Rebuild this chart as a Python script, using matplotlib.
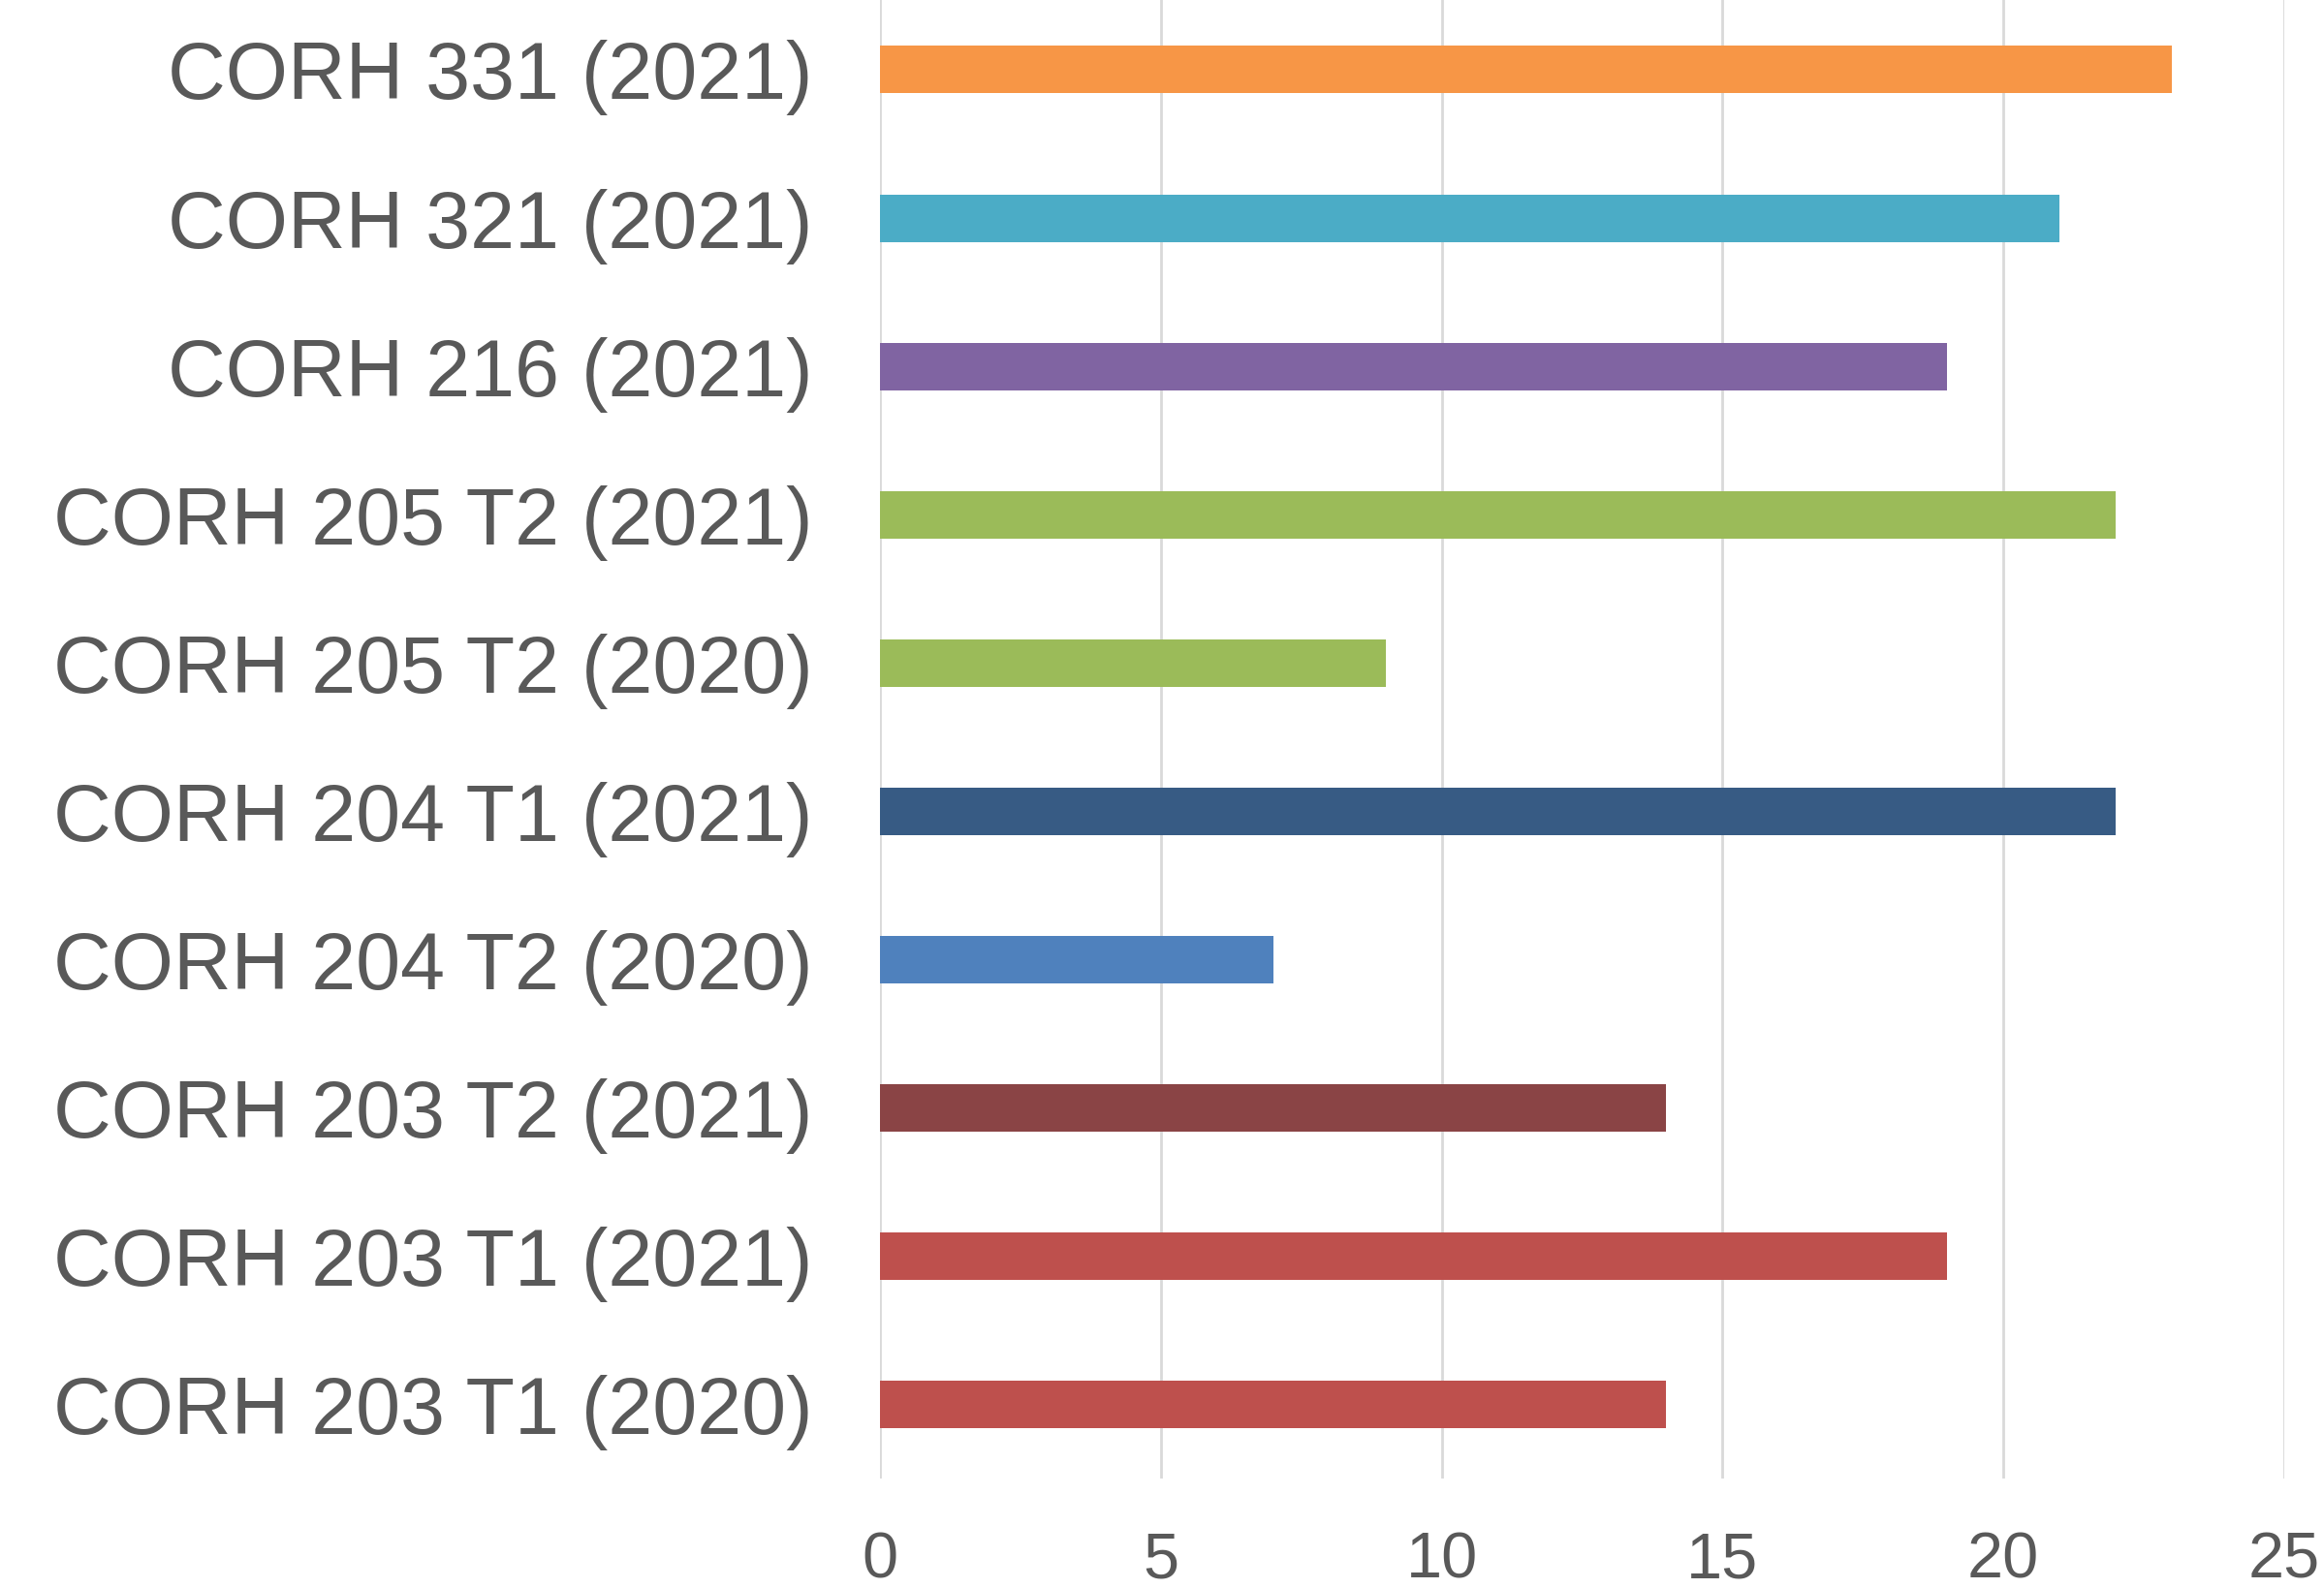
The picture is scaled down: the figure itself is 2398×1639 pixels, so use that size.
import matplotlib
matplotlib.use("Agg")
import matplotlib.pyplot as plt

# ---------- DATA ----------
labels = [
    "CORH 203 T1 (2020)",
    "CORH 203 T1 (2021)",
    "CORH 203 T2 (2021)",
    "CORH 204 T2 (2020)",
    "CORH 204 T1 (2021)",
    "CORH 205 T2 (2020)",
    "CORH 205 T2 (2021)",
    "CORH 216 (2021)",
    "CORH 321 (2021)",
    "CORH 331 (2021)",
]
values = [14, 19, 14, 7, 22, 9, 22, 19, 21, 23]
colors = ["#BE504D", "#BE504D", "#8A4445", "#4F81BD", "#375B84",
          "#9BBB59", "#9BBB59", "#8064A2", "#4BACC6", "#F79646"]
xticks = [0, 5, 10, 15, 20, 25]

TEXT = "#595959"
GRID = "#D9D9D9"

# ---------- PLOT ----------
plt.rcParams["font.family"] = ["Liberation Sans", "DejaVu Sans"]

fig = plt.figure(figsize=(23.98, 16.39), dpi=100)
ax = fig.add_axes([0.3787, 0.0689, 0.6042, 0.9339])

ax.barh(range(len(labels)), values, height=0.32, color=colors, zorder=3)

ax.set_xlim(0, 25)
ax.set_ylim(-0.5, len(labels) - 0.5)
ax.set_xticks(xticks)
ax.set_yticks(range(len(labels)))
ax.set_yticklabels(labels)

ax.grid(axis="x", color=GRID, linewidth=2.0, zorder=0)
ax.grid(axis="y", visible=False)
for s in ax.spines.values():
    s.set_visible(False)

ax.tick_params(axis="y", length=0, pad=50, labelsize=59.5, labelcolor=TEXT)
ax.tick_params(axis="x", length=0, pad=39, labelsize=48, labelcolor=TEXT)

fig.savefig("out.png", dpi=100, facecolor="white")
